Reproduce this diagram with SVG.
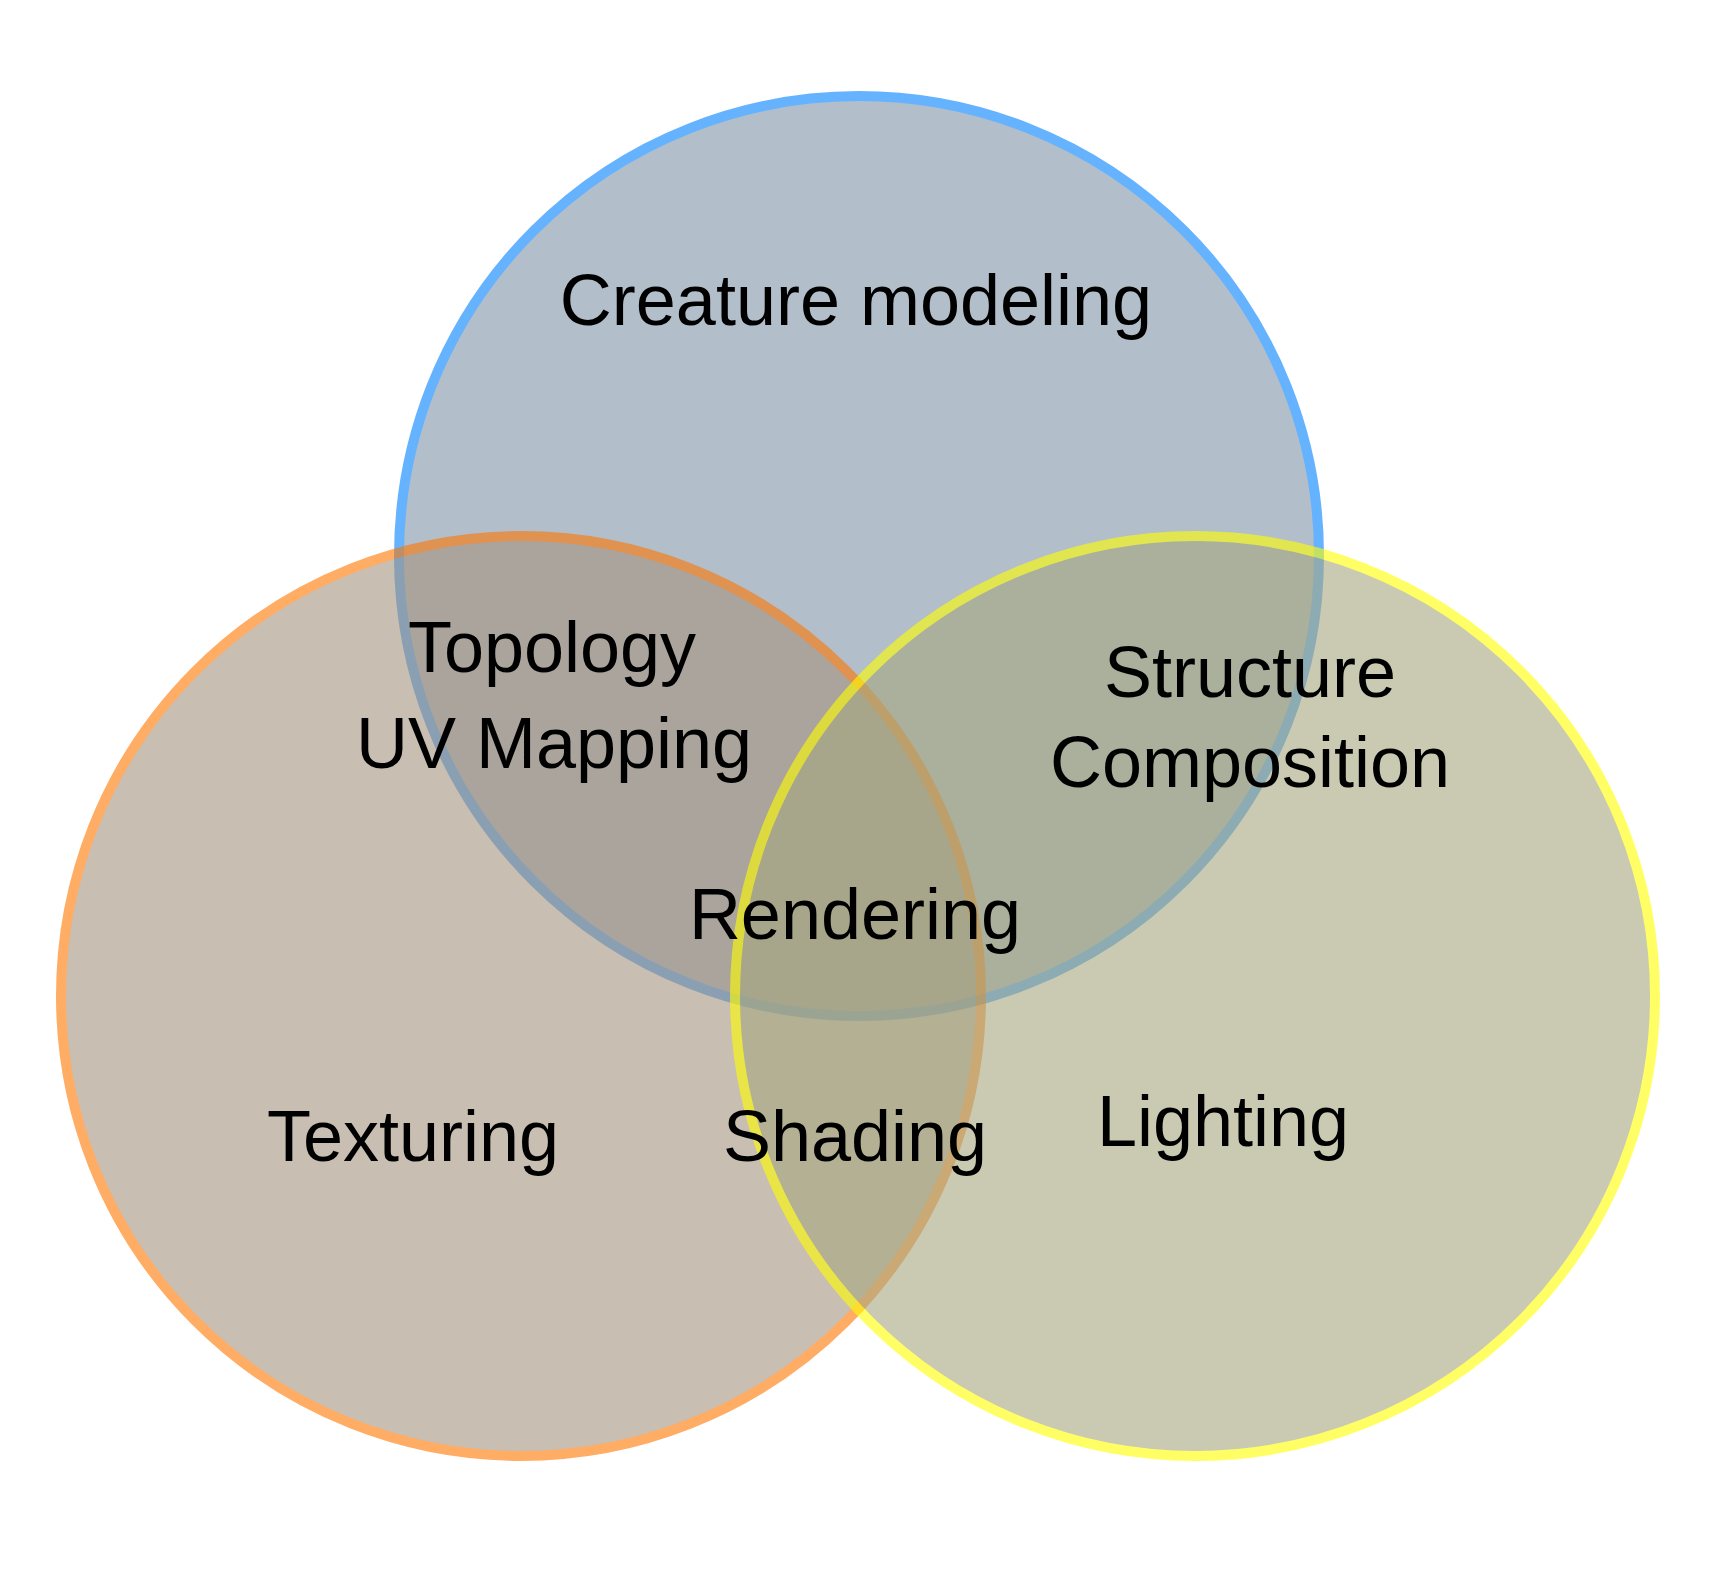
<svg xmlns="http://www.w3.org/2000/svg" width="1718" height="1575" viewBox="0 0 1718 1575">
<style>
.set{stroke-width:10;opacity:0.6}
.lbl{font-family:"Liberation Sans",Arial,sans-serif;font-size:72px;fill:#000;text-anchor:middle}
</style>
<rect width="1718" height="1575" fill="#ffffff"/>
<g id="set-modeling"><circle class="set" cx="859" cy="556" r="460" fill="#8094a8" stroke="#0080ff"/></g>
<g id="set-texturing"><circle class="set" cx="521" cy="996" r="460" fill="#a59480" stroke="#ff7600"/></g>
<g id="set-lighting"><circle class="set" cx="1195" cy="996" r="460" fill="#a7a87f" stroke="#ffff00"/></g>
<g id="connectors"></g>
<g id="labels">
<text class="lbl" x="856" y="325">Creature modeling</text>
<text class="lbl" x="552" y="672">Topology</text>
<text class="lbl" x="554" y="768">UV Mapping</text>
<text class="lbl" x="1250" y="697">Structure</text>
<text class="lbl" x="1250" y="787">Composition</text>
<text class="lbl" x="855" y="939">Rendering</text>
<text class="lbl" x="413" y="1161">Texturing</text>
<text class="lbl" x="855" y="1161">Shading</text>
<text class="lbl" x="1223" y="1146">Lighting</text>
</g>
</svg>
